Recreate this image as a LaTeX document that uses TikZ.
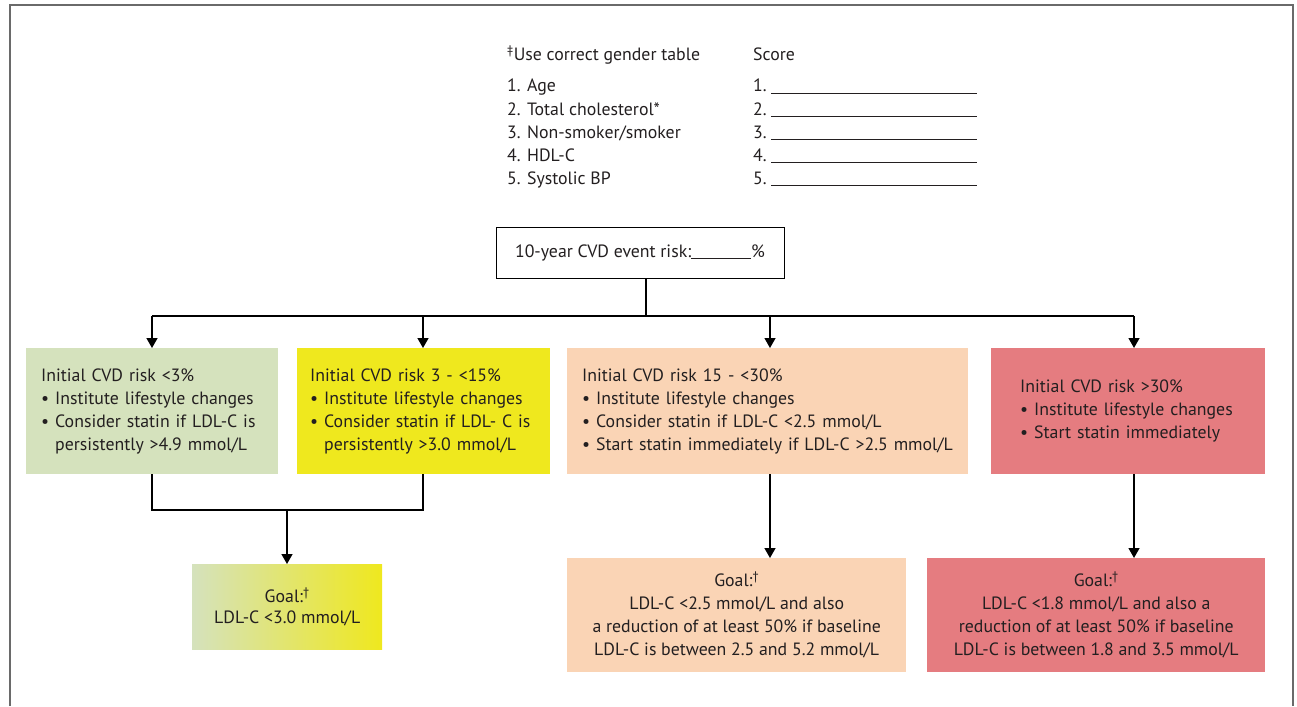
\documentclass[tikz,border=0pt]{standalone}
\usepackage{fontspec}
\setmainfont{PT Sans}
\usetikzlibrary{arrows.meta,calc}
\definecolor{cgreen}{HTML}{D5E2BD}
\definecolor{cyellow}{HTML}{EFE81E}
\definecolor{cpeach}{HTML}{FAD4B5}
\definecolor{cred}{HTML}{E57C80}
\definecolor{cframe}{HTML}{6A6A6A}
\definecolor{ctxt}{HTML}{231F20}
\begin{document}
\begin{tikzpicture}[x=1pt,y=-1pt,
  every node/.style={font=\fontsize{17.8}{23}\selectfont, text=ctxt},
  riskbox/.style={rectangle, draw=none, inner sep=0pt, anchor=north west, minimum height=126pt, align=left},
  goalbox/.style={rectangle, draw=none, inner sep=0pt, anchor=north west, align=center},
  hdr/.style={anchor=base west, inner sep=0pt},
  conn/.style={draw=black, line width=1.4pt},
  arr/.style={conn, -{Triangle[length=10pt,width=11pt]}}]
\useasboundingbox (0,0) rectangle (1297,706);
\draw[cframe, line width=1.6pt] (10,706) -- (10,5) -- (1293,5) -- (1293,706);

% header
\node[hdr] (h0) at (507,61) {\textsuperscript{‡}Use correct gender table};
\node[hdr] (s0) at (753,61) {Score};
\node[hdr] (h1) at (507,92) {1. Age};
\node[hdr] (h2) at (507,115) {2. Total cholesterol*};
\node[hdr] (h3) at (507,138) {3. Non-smoker/smoker};
\node[hdr] (h4) at (507,161) {4. HDL-C};
\node[hdr] (h5) at (507,184) {5. Systolic BP};
\foreach \i/\y in {1/92,2/115,3/138,4/161,5/184}{
  \node[hdr] (s\i) at (753,\y) {\i.\ \rule[-1.5pt]{206pt}{0.6pt}};
}

% CVD risk box
\node[draw=black, line width=1pt, fill=white, minimum width=288pt, minimum height=51pt, inner sep=0pt] (cvd) at (640,253)
  {10-year CVD event risk:\rule[-1.5pt]{60pt}{0.6pt}\%};

% risk boxes
\node[riskbox, fill=cgreen, minimum width=252pt, text width=222pt] (b1) at (26,348)
  {Initial CVD risk <3\%\\
   \textbullet\ Institute lifestyle changes\\
   \textbullet\ Consider statin if LDL-C is\\
   \hphantom{\textbullet\ }persistently >4.9 mmol/L};
\node[riskbox, fill=cyellow, minimum width=253pt, text width=227pt] (b2) at (297,348)
  {Initial CVD risk 3 - <15\%\\
   \textbullet\ Institute lifestyle changes\\
   \textbullet\ Consider statin if LDL- C is\\
   \hphantom{\textbullet\ }persistently >3.0 mmol/L};
\node[riskbox, fill=cpeach, minimum width=401pt, text width=371pt] (b3) at (567,348)
  {Initial CVD risk 15 - <30\%\\
   \textbullet\ Institute lifestyle changes\\
   \textbullet\ Consider statin if LDL-C <2.5 mmol/L\\
   \textbullet\ Start statin immediately if LDL-C >2.5 mmol/L};
\node[riskbox, fill=cred, minimum width=274pt, text width=216pt] (b4) at (991,348)
  {Initial CVD risk >30\%\\
   \textbullet\ Institute lifestyle changes\\
   \textbullet\ Start statin immediately};

% goal boxes
\shade[left color=cgreen, right color=cyellow] (192,564) rectangle (382,649);
\node[goalbox, minimum width=190pt, minimum height=85pt, font=\fontsize{17.8}{21}\selectfont] (g1) at (192,564)
  {Goal:\textsuperscript{†}\\LDL-C <3.0 mmol/L};
\node[goalbox, fill=cpeach, minimum width=339pt, minimum height=114pt] (g3) at (567,558)
  {Goal:\textsuperscript{†}\\LDL-C <2.5 mmol/L and also\\a reduction of at least 50\% if baseline\\LDL-C is between 2.5 and 5.2 mmol/L};
\node[goalbox, fill=cred, minimum width=338pt, minimum height=114pt] (g4) at (927,558)
  {Goal:\textsuperscript{†}\\LDL-C <1.8 mmol/L and also a\\reduction of at least 50\% if baseline\\LDL-C is between 1.8 and 3.5 mmol/L};

% connectors
\coordinate (hbar) at (646,316);
\coordinate (a1) at (152,316);
\coordinate (a2) at (423,316);
\coordinate (a3) at (770,316);
\coordinate (a4) at (1134,316);
\draw[conn] (cvd.south -| hbar) -- (hbar);
\draw[conn] (a1) -- (a4);
\draw[arr] (a1) -- (a1 |- b1.north);
\draw[arr] (a2) -- (a2 |- b2.north);
\draw[arr] (a3) -- (a3 |- b3.north);
\draw[arr] (a4) -- (a4 |- b4.north);
\coordinate (m) at (287,510);
\draw[conn] (a1 |- b1.south) -- (a1 |- m) -- (a2 |- m) -- (a2 |- b2.south);
\draw[arr] (m) -- (m |- g1.north);
\draw[arr] (a3 |- b3.south) -- (a3 |- g3.north);
\draw[arr] (a4 |- b4.south) -- (a4 |- g4.north);
\end{tikzpicture}
\end{document}
